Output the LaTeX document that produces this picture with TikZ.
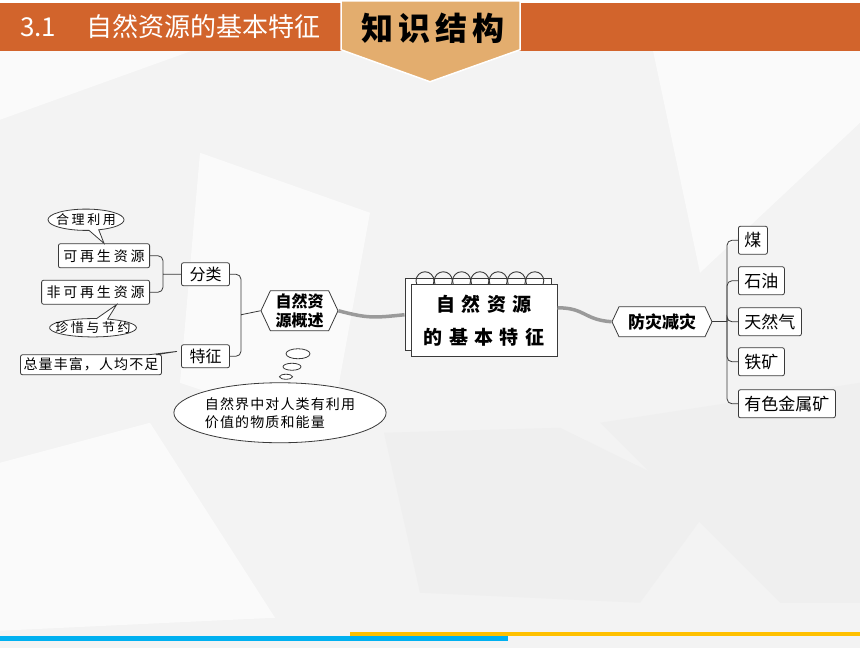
\documentclass[tikz,border=0pt]{standalone}
\usepackage{fontspec}
\usetikzlibrary{shapes.geometric,shapes.symbols,shapes.callouts,calc}
\newfontfamily\cjk{Noto Sans CJK SC}
\newfontfamily\cjksp[LetterSpace=20]{Noto Sans CJK SC}
\newfontfamily\cjkwide[LetterSpace=33]{Noto Sans CJK SC}
\newfontfamily\cjktab[LetterSpace=16]{Noto Sans CJK SC}
\newfontfamily\cjknarrow[LetterSpace=8]{Noto Sans CJK SC}
\definecolor{bandorange}{HTML}{D2642C}
\definecolor{tabtan}{HTML}{E3AD6E}
\definecolor{bggray}{HTML}{F3F3F3}
\definecolor{bglight}{HTML}{FAFAFA}
\definecolor{bgdark}{HTML}{EFEFEF}
\definecolor{boxline}{HTML}{3A3A3A}
\definecolor{linkgray}{HTML}{9A9A9A}
\definecolor{barblue}{HTML}{00B0F0}
\definecolor{baryellow}{HTML}{FFC000}
\begin{document}
\begin{tikzpicture}[x=1pt,y=-1pt,
    every node/.style={inner sep=0pt},
    leaf/.style={draw=boxline,fill=white,rounded corners=2pt,line width=0.8pt,
      minimum height=24pt,inner xsep=5pt,font=\cjksp\fontsize{14}{16}\selectfont},
    kind/.style={leaf,minimum height=23pt,inner xsep=8pt,font=\cjk\fontsize{16}{18}\selectfont},
    item/.style={leaf,minimum height=28pt,inner xsep=6pt,anchor=west,font=\cjk\fontsize{17}{19}\selectfont},
    note/.style={draw=boxline,fill=white,line width=0.8pt,ellipse callout,
      font=\cjksp\fontsize{13}{15}\selectfont},
    hexa/.style={draw=boxline,fill=white,line width=0.8pt,shape=signal,
      signal to=west and east,signal pointer angle=130,align=center,
      font=\cjk\bfseries},
    bubble/.style={draw=boxline,fill=white,line width=0.8pt,ellipse},
    page/.style={draw=boxline,fill=white,line width=1pt,minimum width=146pt,minimum height=72pt},
    tie/.style={draw=boxline,line width=0.8pt,rounded corners=5pt},
    link/.style={draw=linkgray,line width=3.5pt}
  ]
  \fill[bggray] (0,0) rectangle (860,645);
  \fill[bglight] (0,48) -- (192,48) -- (0,117) -- cycle;
  \fill[bglight] (0,460) -- (150,420) -- (275,615) -- (0,628) -- cycle;
  \fill[bgdark] (384,430) -- (560,425) -- (713,500) -- (640,600) -- (420,590) -- cycle;
  \fill[bglight] (653,48) -- (860,48) -- (860,120) -- (700,270) -- cycle;
  \fill[bglight] (200,150) -- (370,210) -- (330,430) -- (180,380) -- cycle;
  \fill[bgdark] (600,420) -- (860,380) -- (860,600) -- (780,600) -- cycle;

  \fill[bandorange] (0,0) rectangle (860,48);
  \node[anchor=west,text=white,font=\cjk\fontsize{26}{28}\selectfont] (title) at (20,24)
    {3.1\hspace{30pt}自然资源的基本特征};
  \filldraw[fill=tabtan,draw=white,line width=1.5pt]
    (341,-2) -- (341,47) -- (430,79) -- (520,47) -- (520,-2) -- cycle;
  \node[font=\cjktab\bfseries\fontsize{32}{34}\selectfont] (tab) at (433,26) {知识结构};

  \node[leaf,anchor=east] (kz) at (150,253) {可再生资源};
  \node[leaf,anchor=east] (fkz) at (150,289.5) {非可再生资源};
  \node[note,inner xsep=-3pt,inner ysep=1.5pt,
    callout absolute pointer={(kz.north)}] (hl) at (86,217) {合理利用};
  \node[note,inner xsep=-7pt,inner ysep=0.5pt,
    callout absolute pointer={($(fkz.south)+(21,0)$)}] (zx) at (93,325) {珍惜与节约};
  \node[kind] (fl) at (205.5,271.5) {分类};
  \node[kind] (tz) at (205.5,353.5) {特征};
  \node[leaf,rectangle callout,minimum height=20pt,inner xsep=3pt,
    font=\cjknarrow\fontsize{14}{16}\selectfont,
    callout absolute pointer={($(tz.west)+(-3,-5)$)}] (zl) at (91,362) {总量丰富，人均不足};

  \node[hexa,minimum width=77pt,minimum height=40pt,
    font=\cjk\bfseries\fontsize{16}{19}\selectfont] (gs) at (299.5,308) {自然资\\源概述};
  \node[bubble,minimum width=24pt,minimum height=10pt] (b1) at (298,351) {};
  \node[bubble,minimum width=18pt,minimum height=7pt] (b2) at (292,364) {};
  \node[bubble,minimum width=13pt,minimum height=5pt] (b3) at (286,374) {};
  \node[bubble,minimum width=190pt,minimum height=60pt,align=left,
    font=\cjknarrow\fontsize{14}{18}\selectfont] (dy) at (280,410)
    {自然界中对人类有利用\\价值的物质和能量};

  \node[page] (nbback) at (478,312) {};
  \foreach \i in {0,...,6}
    \draw[boxline,line width=0.9pt] ({425+18.3*\i},278) circle (9pt);
  \node[page,align=center,font=\cjkwide\bfseries\fontsize{19}{33}\selectfont] (nb) at (484,318)
    {自然资源\\的基本特征};

  \node[hexa,minimum width=100pt,minimum height=30pt,
    font=\cjk\bfseries\fontsize{17}{19}\selectfont] (ff) at (662,319) {防灾减灾};

  \node[item] (coal) at (738,237.5) {煤};
  \node[item] (oil) at (738,278) {石油};
  \node[item] (gas) at (738,319) {天然气};
  \node[item] (iron) at (738,359) {铁矿};
  \node[item] (metal) at (738,401) {有色金属矿};

  \coordinate (jl) at (163,271.5);
  \coordinate (jm) at (241,312);
  \coordinate (jr) at (727,319);
  \path[tie] (jl) |- (kz.east) (jl) |- (fkz.east) (jl) -- (fl.west);
  \path[tie] (jm) |- (fl.east) (jm) |- (tz.east) (jm) -- (gs.west);
  \path[tie] (ff.east) -- (jr);
  \foreach \n in {coal,oil,gas,iron,metal}
    \path[tie] (jr) |- (\n.west);

  \draw[link] (gs.east) .. controls +(30,8) and +(-30,3) .. (nbback.west);
  \draw[link] (nb.10) .. controls +(28,0) and +(-28,-2) .. (ff.west);

  \fill[baryellow] (350,629) rectangle (860,633);
  \fill[barblue] (0,633) rectangle (508,638);
\end{tikzpicture}
\end{document}
